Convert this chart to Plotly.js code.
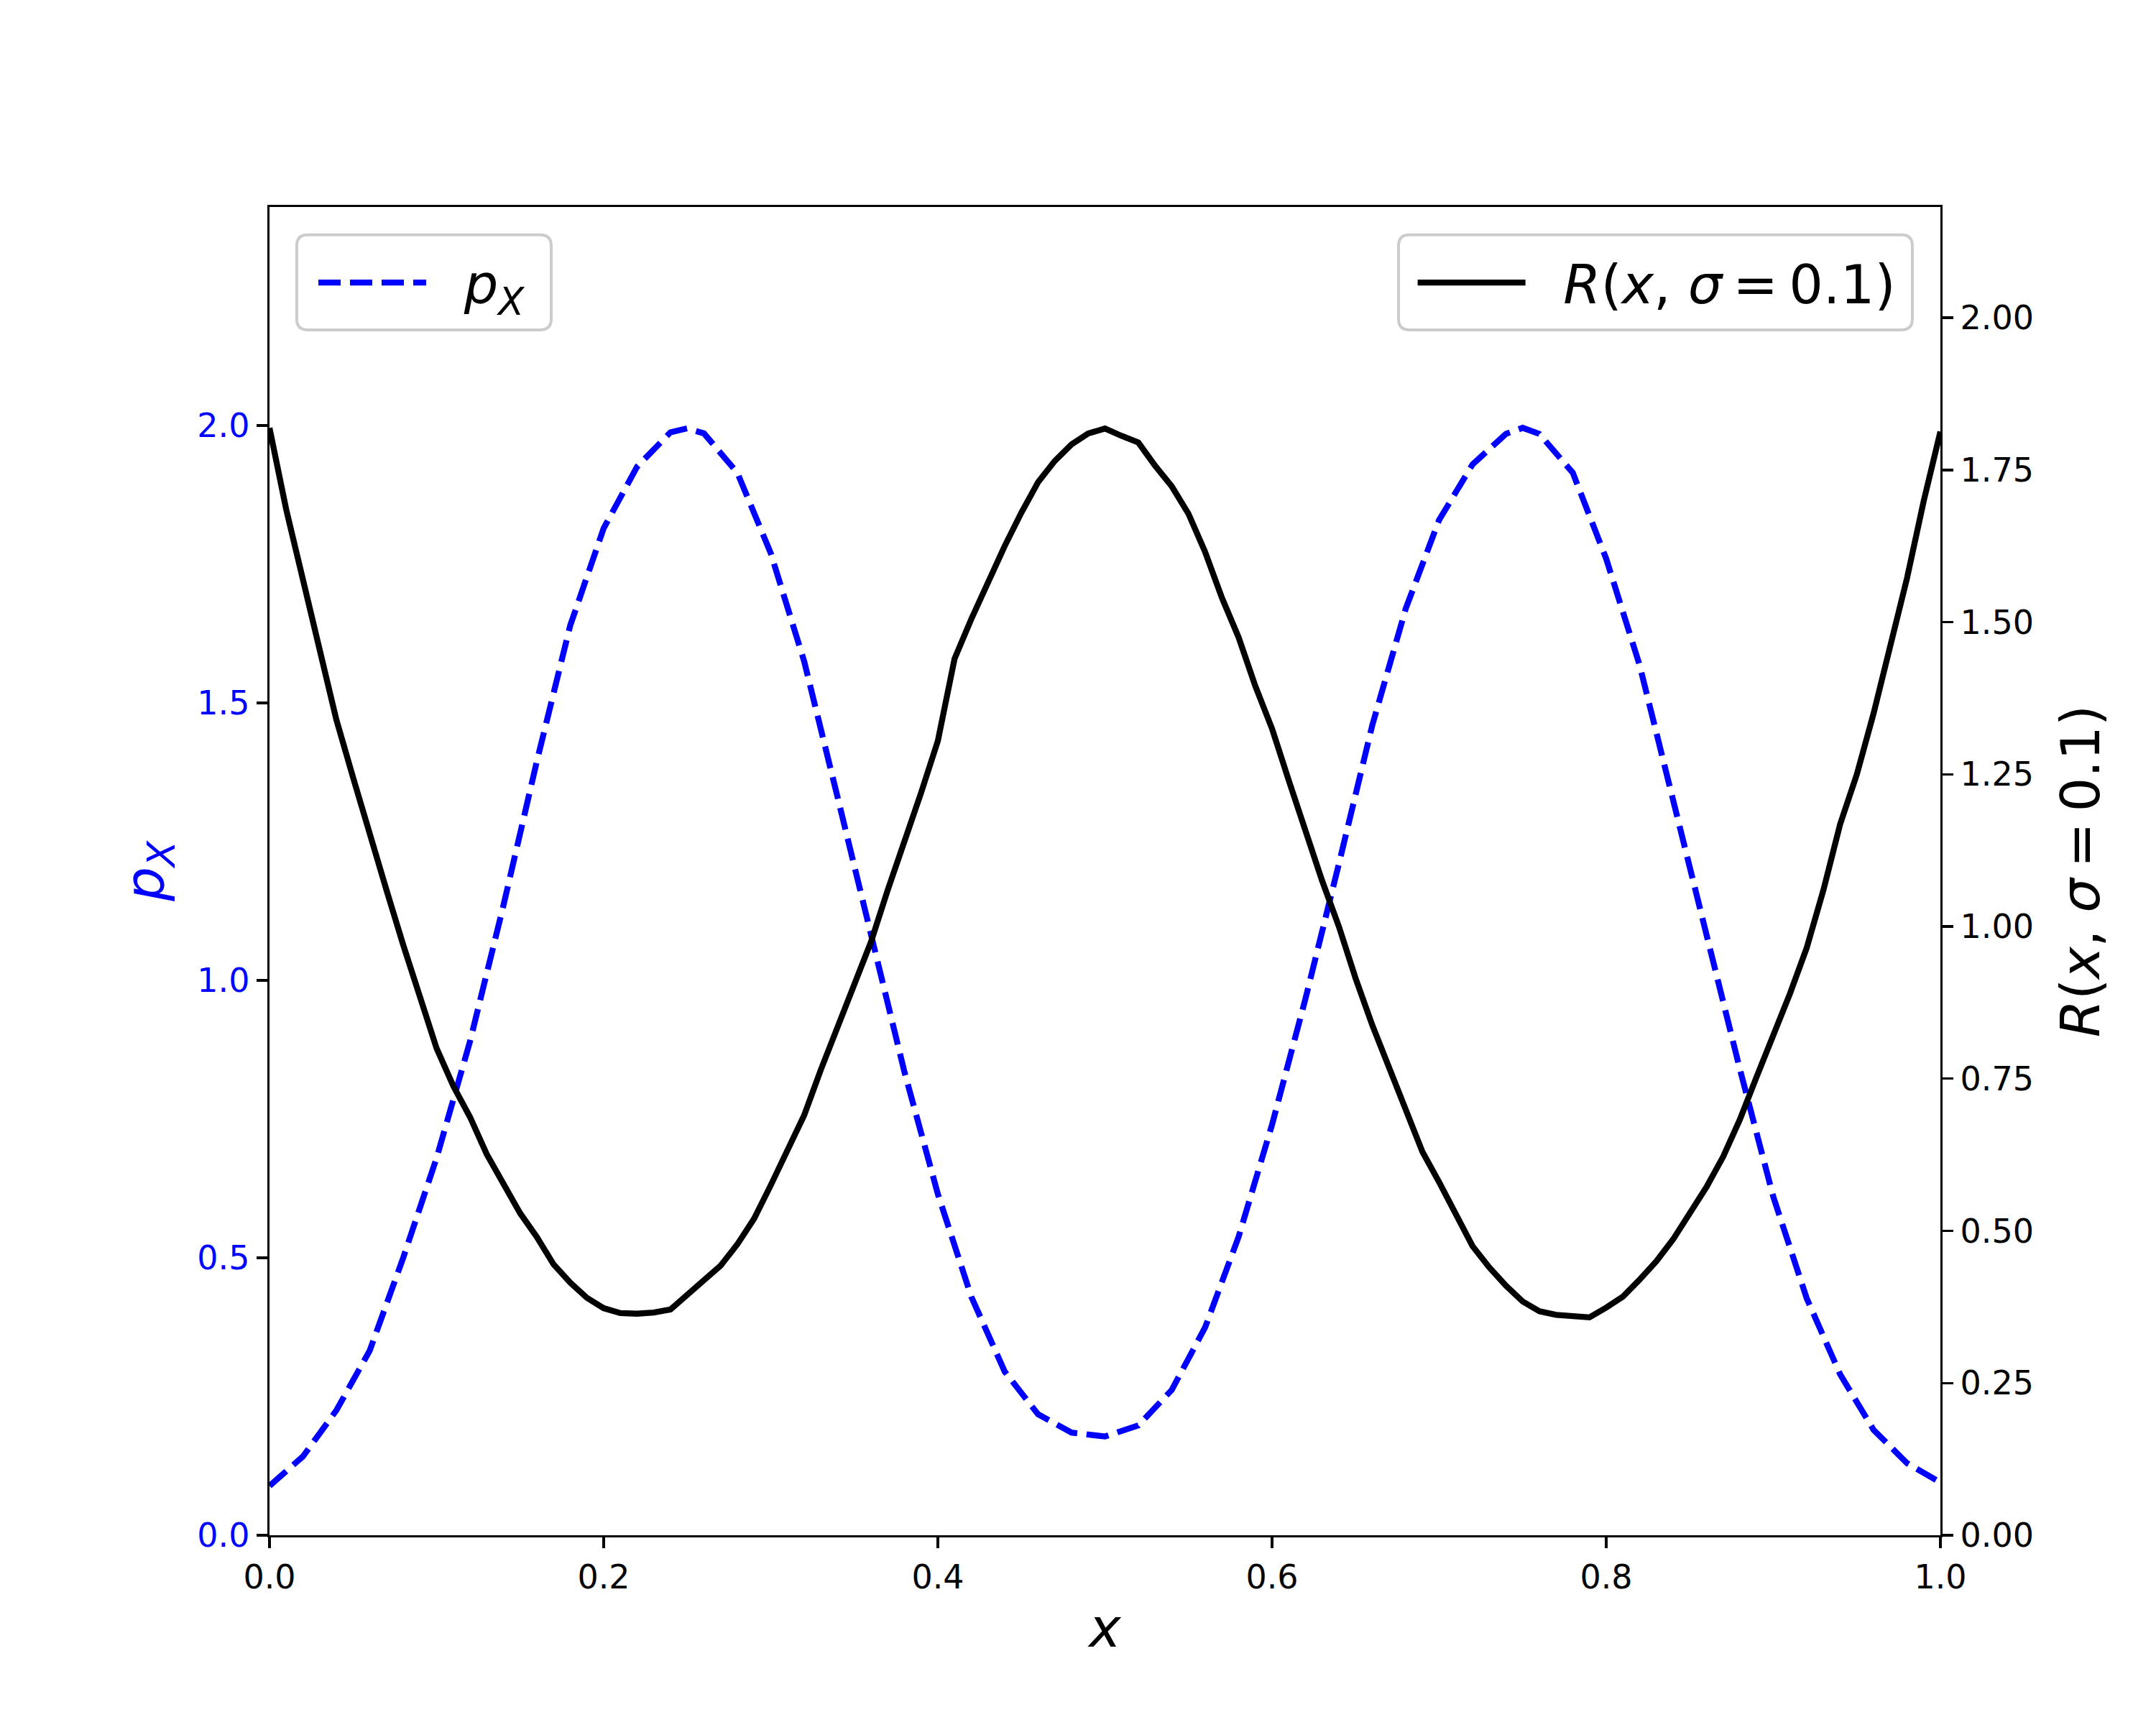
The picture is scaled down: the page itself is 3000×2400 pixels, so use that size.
<!DOCTYPE html>
<html>
<head>
<meta charset="utf-8">
<script src="https://cdn.plot.ly/plotly-3.0.1.min.js"></script>
<style>html,body{margin:0;padding:0;background:#fff}</style>
</head>
<body>
<div id="chart" style="width:3000px;height:2400px"></div>
<script>
// density p_X (left axis)
const xP = [0.00, 0.02, 0.04, 0.06, 0.08, 0.10, 0.12, 0.14, 0.16, 0.18, 0.20, 0.22, 0.24, 0.25, 0.26, 0.28, 0.30,
            0.32, 0.34, 0.36, 0.38, 0.40, 0.42, 0.44, 0.46, 0.48, 0.50, 0.52, 0.54, 0.56, 0.58, 0.60, 0.62,
            0.64, 0.66, 0.68, 0.70, 0.72, 0.74, 0.75, 0.76, 0.78, 0.80, 0.82, 0.84, 0.86, 0.88, 0.90, 0.92,
            0.94, 0.96, 0.98, 1.00];
const pX = [0.089, 0.142, 0.225, 0.333, 0.50, 0.68, 0.89, 1.135, 1.395, 1.64, 1.815, 1.926, 1.988, 1.995, 1.986, 1.915, 1.77,
            1.575, 1.33, 1.085, 0.835, 0.615, 0.43, 0.295, 0.218, 0.185, 0.178, 0.198, 0.262, 0.375, 0.538, 0.74, 0.967,
            1.21, 1.46, 1.67, 1.83, 1.93, 1.985, 1.996, 1.985, 1.915, 1.76, 1.568, 1.325, 1.075, 0.84, 0.61, 0.427,
            0.29, 0.19, 0.13, 0.095];

// R(x, sigma=0.1) (right axis)
const xR = [0.00, 0.01, 0.02, 0.03, 0.04, 0.05, 0.06, 0.07, 0.08, 0.09, 0.10, 0.11, 0.12, 0.13, 0.14, 0.15, 0.16,
            0.17, 0.18, 0.19, 0.20, 0.21, 0.22, 0.23, 0.24, 0.25, 0.26, 0.27, 0.28, 0.29, 0.30, 0.31, 0.32,
            0.33, 0.34, 0.35, 0.36, 0.37, 0.38, 0.39, 0.40, 0.41, 0.42, 0.43, 0.44, 0.45, 0.46, 0.47, 0.48,
            0.49, 0.50, 0.51, 0.52, 0.53, 0.54, 0.55, 0.56, 0.57, 0.58, 0.59, 0.60, 0.61, 0.62, 0.63, 0.64,
            0.65, 0.66, 0.67, 0.68, 0.69, 0.70, 0.71, 0.72, 0.73, 0.74, 0.75, 0.76, 0.77, 0.78, 0.79, 0.80,
            0.81, 0.82, 0.83, 0.84, 0.85, 0.86, 0.87, 0.88, 0.89, 0.90, 0.91, 0.92, 0.93, 0.94, 0.95, 0.96,
            0.97, 0.98, 0.99, 1.00];
const rVals = [1.819, 1.685, 1.570, 1.455, 1.340, 1.245, 1.150, 1.060, 0.970, 0.885, 0.800, 0.738, 0.687, 0.626, 0.578, 0.529, 0.490,
               0.445, 0.415, 0.390, 0.373, 0.365, 0.364, 0.366, 0.371, 0.395, 0.416, 0.443, 0.478, 0.520, 0.575, 0.635, 0.690,
               0.765, 0.835, 0.900, 0.975, 1.060, 1.138, 1.220, 1.305, 1.440, 1.505, 1.568, 1.625, 1.680, 1.730, 1.765, 1.792,
               1.810, 1.818, 1.806, 1.795, 1.757, 1.723, 1.678, 1.615, 1.540, 1.475, 1.395, 1.325, 1.240, 1.155, 1.075, 1.000,
               0.915, 0.838, 0.770, 0.700, 0.630, 0.580, 0.530, 0.475, 0.440, 0.410, 0.384, 0.368, 0.362, 0.360, 0.358, 0.374,
               0.392, 0.420, 0.450, 0.486, 0.528, 0.572, 0.622, 0.683, 0.753, 0.819, 0.890, 0.965, 1.060, 1.168, 1.250, 1.350,
               1.458, 1.572, 1.699, 1.813];

const xTicks = [0, 0.2, 0.4, 0.6, 0.8, 1.0];
const pTicks = [0, 0.5, 1.0, 1.5, 2.0];
const rTicks = [0, 0.25, 0.5, 0.75, 1.0, 1.25, 1.5, 1.75, 2.0];

const FONT = "DejaVu Sans";
const pLabel = "<i>p</i><sub><i>X</i></sub>";
const rLabel = "<i>R</i>(<i>x</i>, <i>σ</i>\u2009=\u20090.1)";
const GAP = "&nbsp;&nbsp;";

const traces = [
  { x: xP, y: pX, type: "scatter", mode: "lines", name: GAP + pLabel, yaxis: "y", legend: "legend",
    line: { color: "#0000ff", width: 8.3, dash: "31px,13px" } },
  { x: xR, y: rVals, type: "scatter", mode: "lines", name: GAP + rLabel, yaxis: "y2", legend: "legend2",
    line: { color: "#000000", width: 8.3 } }
];

const axisCommon = {
  showgrid: false, zeroline: false, showline: true, linecolor: "black", linewidth: 3.3,
  ticks: "outside", ticklen: 15, tickwidth: 3.3, tickcolor: "black",
  tickfont: { family: FONT, size: 46, color: "black" }
};

// legends: transparent, the rounded frames are drawn as shapes
const legendCommon = {
  font: { family: FONT, size: 75, color: "black" },
  bgcolor: "rgba(0,0,0,0)", borderwidth: 0,
  yanchor: "middle", y: 0.943, xanchor: "left", itemwidth: 150
};

// rounded legend frame in paper units
function frame(x0, x1, y0, y1) {
  const rx = 0.0065, ry = 0.0082;
  const d = `M${x0 + rx},${y1} L${x1 - rx},${y1} Q${x1},${y1} ${x1},${y1 - ry} ` +
            `L${x1},${y0 + ry} Q${x1},${y0} ${x1 - rx},${y0} L${x0 + rx},${y0} ` +
            `Q${x0},${y0} ${x0},${y0 + ry} L${x0},${y1 - ry} Q${x0},${y1} ${x0 + rx},${y1} Z`;
  return { type: "path", xref: "paper", yref: "paper", path: d, layer: "above",
           fillcolor: "rgba(255,255,255,0.8)", line: { color: "#cccccc", width: 4 } };
}

const layout = {
  width: 3000, height: 2400,
  plot_bgcolor: "white", paper_bgcolor: "white",
  margin: { l: 375, r: 300, t: 288, b: 264 },
  showlegend: true,
  xaxis: Object.assign({}, axisCommon, {
    range: [0, 1], tickvals: xTicks, tickformat: ".1f", mirror: true,
    title: { text: "<i>x</i>", font: { family: FONT, size: 75, color: "black" }, standoff: 20 }
  }),
  yaxis: Object.assign({}, axisCommon, {
    range: [0, 2.394], tickvals: pTicks, tickformat: ".1f",
    tickfont: { family: FONT, size: 46, color: "#0000ff" },
    title: { text: pLabel, font: { family: FONT, size: 75, color: "#0000ff" }, standoff: 22 }
  }),
  yaxis2: Object.assign({}, axisCommon, {
    range: [0, 2.182], tickvals: rTicks, tickformat: ".2f",
    overlaying: "y", side: "right",
    title: { text: rLabel, font: { family: FONT, size: 75, color: "black" }, standoff: 40 }
  }),
  legend: Object.assign({}, legendCommon, { x: 0.0271 }),
  legend2: Object.assign({}, legendCommon, { x: 0.685 }),
  shapes: [frame(0.0163, 0.1686, 0.9075, 0.979), frame(0.6757, 0.9832, 0.9075, 0.979)]
};

Plotly.newPlot("chart", traces, layout, { displayModeBar: false, staticPlot: true });
</script>
</body>
</html>
